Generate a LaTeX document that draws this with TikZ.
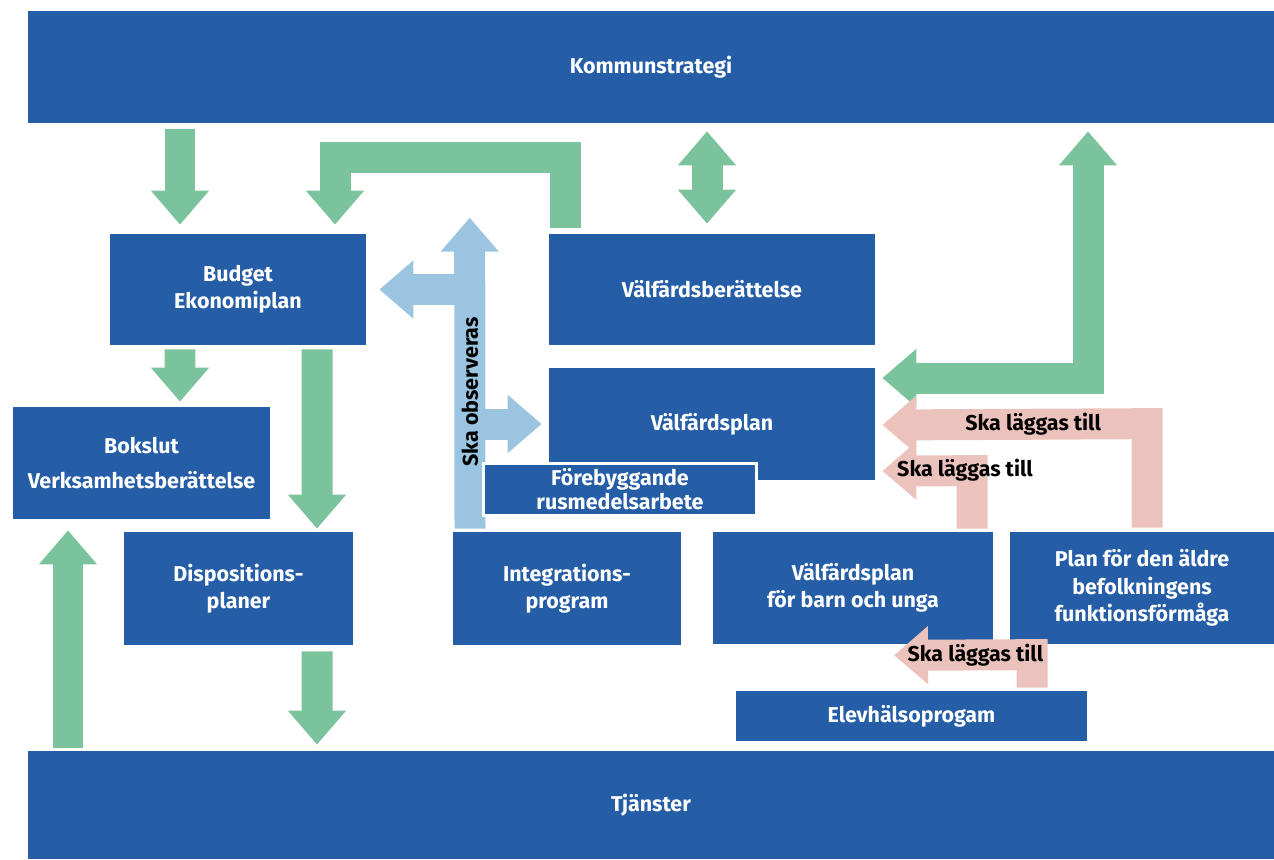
\documentclass[tikz,border=0pt]{standalone}
\usepackage{fontspec}
\setmainfont{Fira Sans}
\usetikzlibrary{arrows.meta, calc}
\definecolor{boxblue}{RGB}{37,94,167}
\definecolor{arrgreen}{RGB}{123,195,156}
\definecolor{arrblue}{RGB}{154,196,224}
\definecolor{arrpink}{RGB}{235,195,188}
\tikzset{
  flow/.style={
	x=0.02cm, y=-0.02cm, % one unit is one pixel of the layout, y downwards
	every node/.style={font=\fontsize{12.2}{15.5}\selectfont\bfseries, align=center},
  },
  box/.style={fill=boxblue, text=white, inner sep=0pt}, % the blue boxes
  fat/.style={line width=0.62cm, -{Triangle[width=1.12cm,length=0.68cm]}}, % broad block arrows
  both/.style={{Triangle[width=1.12cm,length=0.68cm]}-{Triangle[width=1.12cm,length=0.68cm]}}, % heads at both ends
  grn/.style={fat, draw=arrgreen},
  blu/.style={fat, draw=arrblue},
  pnk/.style={fat, draw=arrpink},
  lbl/.style={text=black, inner sep=1pt},
}
\begin{document}
\begin{tikzpicture}[flow]
\useasboundingbox (0,0) rectangle (1274,859);
\node[box, minimum width=24.92cm, minimum height=2.24cm] (ks) at (651,67) {Kommunstrategi};
\node[box, minimum width=24.92cm, minimum height=2.16cm] (tj) at (651,805) {Tjänster};
\node[box, minimum width=5.12cm, minimum height=2.22cm] (budget) at (238,289.5) {Budget\\Ekonomiplan};
\node[box, minimum width=5.14cm, minimum height=2.24cm] (bokslut) at (141.5,463) {Bokslut\\[4pt]Verksamhetsberättelse};
\node[box, minimum width=4.58cm, minimum height=2.26cm] (disp) at (238.5,588.5) {Dispositions-\\planer};
\node[box, minimum width=6.52cm, minimum height=2.22cm] (vberatt) at (712,289.5) {Välfärdsberättelse};
\node[box, minimum width=6.52cm, minimum height=2.24cm] (vplan) at (712,424) {Välfärdsplan};
\node[box, minimum width=4.56cm, minimum height=2.26cm] (integ) at (567,588.5) {Integrations-\\program};
\node[box, minimum width=5.6cm, minimum height=2.24cm] (vbarn) at (853,588) {Välfärdsplan\\för barn och unga};
\node[box, minimum width=5.28cm, minimum height=2.24cm] (aldre) at (1142,588) {Plan för den äldre\\befolkningens\\funktionsförmåga};
\node[box, minimum width=7.02cm, minimum height=1cm] (elev) at (911.5,716) {Elevhälsoprogam};

% green arrows
\draw[grn] ($(ks.south)+(-471,6)$) -- ($(budget.north)+(-58,-9)$);
\draw[grn] ($(vberatt.north west)+(17,-6)$) -- ++(0,-70) -| ($(budget.north)+(97,-9)$);
\draw[grn, both] ($(ks.south)+(56,8)$) -- ($(vberatt.north)+(-5,-10)$);
\draw[grn, both] ($(ks.south)+(437,8)$) |- ($(vplan.east)+(7,-46)$);
\draw[grn] ($(budget.south)+(-58,4)$) -- ($(bokslut.north)+(38.5,-5)$);
\draw[grn] ($(budget.south)+(79,4)$) -- ($(disp.north)+(78.5,-3)$);
\draw[grn] ($(disp.south)+(78.5,6)$) -- ($(tj.north)+(-334,-6)$);
\draw[grn] ($(tj.north)+(-583,-3)$) -- ($(bokslut.south)+(-73.5,11)$);

% light blue arrows
\coordinate (obs) at ($(integ.north)+(-97,-3)$);
\draw[blu] (obs |- budget.east) -- ($(budget.east)+(13,0)$);
\draw[blu] (obs |- vplan.west) -- ($(vplan.west)+(-7,0)$);
\draw[blu] (obs) -- node[lbl, rotate=90, pos=0.44] (obstxt) {Ska observeras} ($(vberatt.north west)+(-79,-16)$);

% pink arrows
\draw[pnk] ($(aldre.north)+(5,-4)$) -- ++(0,-104) -- node[lbl, pos=0.43] (add1) {Ska läggas till} ($(vplan.east)+(7,1)$);
\draw[pnk] ($(vbarn.north)+(119,-3)$) -- ++(0,-58) node[lbl, xshift=-0.14cm] (add2) {Ska läggas till} -- ($(vplan.east)+(7,47)$);
\draw[pnk] ($(elev.north)+(120.5,-3)$) -- ++(0,-33) -- node[lbl, pos=0.41] (add3) {Ska läggas till} ($(vbarn.south)+(41,11)$);

\node[box, draw=white, line width=0.06cm, minimum width=5.48cm, minimum height=1.04cm] (rus) at (620,489) {Förebyggande\\[-2pt]rusmedelsarbete};
\end{tikzpicture}
\end{document}
